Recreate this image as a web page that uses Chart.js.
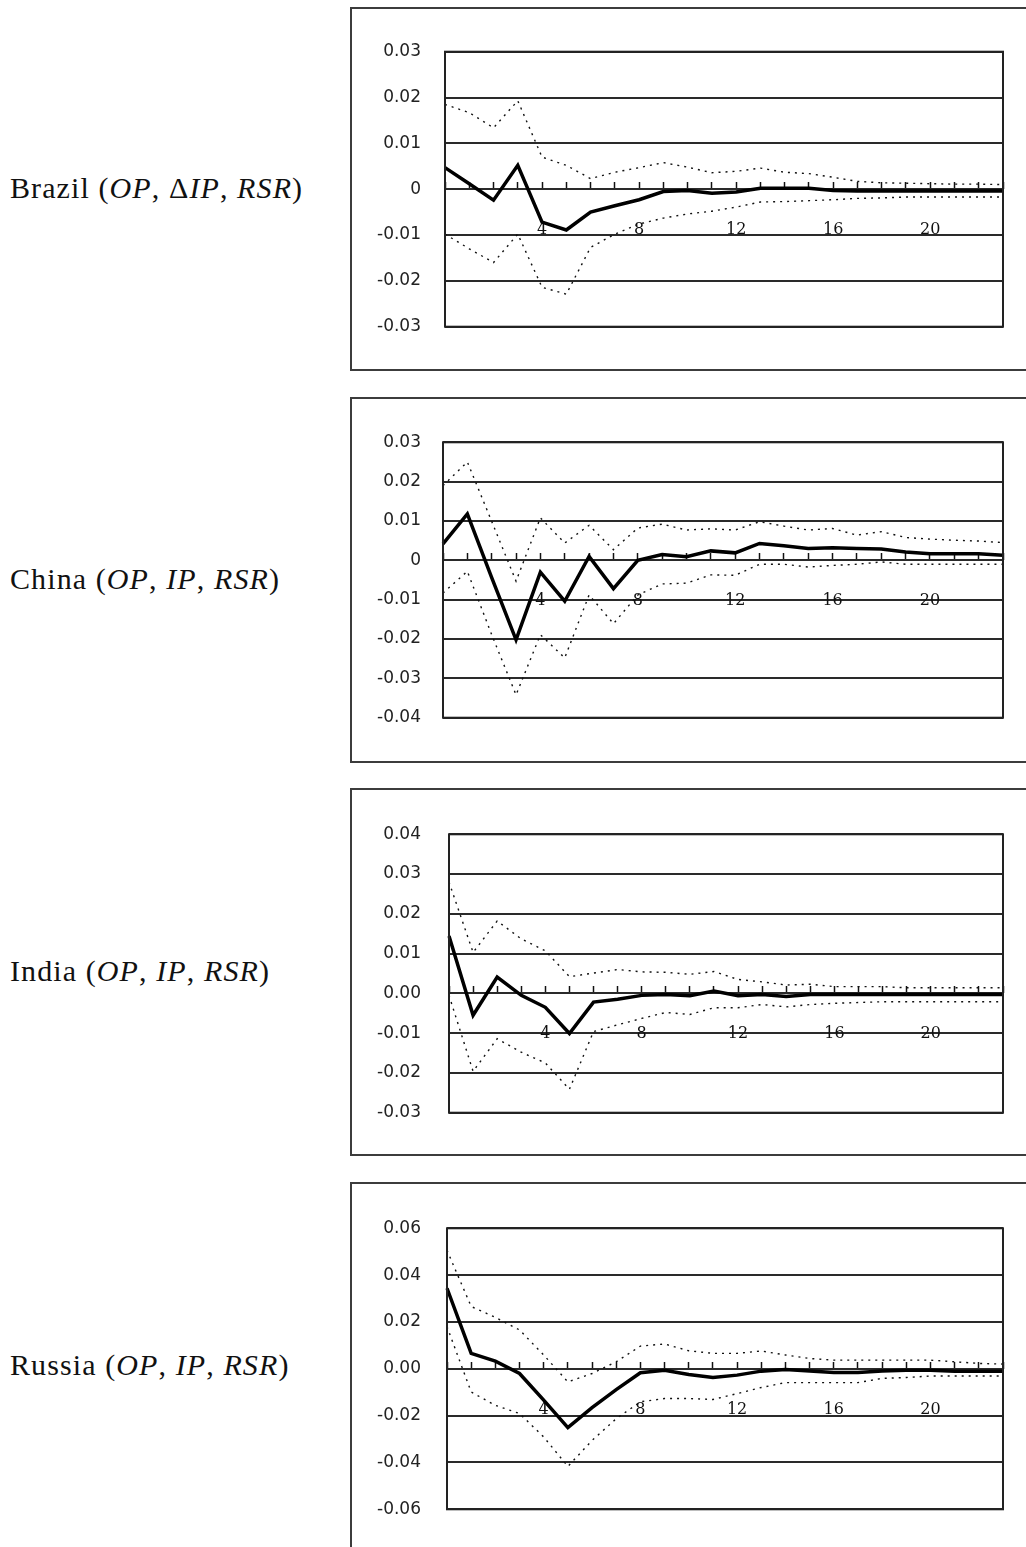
<!DOCTYPE html>
<html lang="en">
<head>
<meta charset="UTF-8">
<title>Impulse responses</title>
<script src="https://cdn.jsdelivr.net/npm/chart.js"></script>
<style>
  html, body { margin: 0; padding: 0; background: #fff; }
  body { width: 1026px; height: 1547px; overflow: hidden; position: relative; }
  .box { position: absolute; left: 350px; width: 720px; border: 2px solid #3c3c3c; box-sizing: border-box; overflow: hidden; }
  .box canvas { position: absolute; left: 0; top: 0; }
  .name { position: absolute; left: 10px; display: flex; align-items: center; font-family: "Liberation Serif", serif; font-size: 30px; letter-spacing: 1.1px; color: #111; white-space: nowrap; }
</style>
</head>
<body>
  <div class="name" id="n1"><span>Brazil (<i>OP</i>, &Delta;<i>IP</i>, <i>RSR</i>)</span></div>
  <div class="name" id="n2"><span>China (<i>OP</i>, <i>IP</i>, <i>RSR</i>)</span></div>
  <div class="name" id="n3"><span>India (<i>OP</i>, <i>IP</i>, <i>RSR</i>)</span></div>
  <div class="name" id="n4"><span>Russia (<i>OP</i>, <i>IP</i>, <i>RSR</i>)</span></div>
  <div class="box" id="b1"><canvas id="c1"></canvas></div>
  <div class="box" id="b2"><canvas id="c2"></canvas></div>
  <div class="box" id="b3"><canvas id="c3"></canvas></div>
  <div class="box" id="b4"><canvas id="c4"></canvas></div>

<script>
// periods 0..23, only every 4th one labelled
const periods = ['', '', '', '', '4', '', '', '', '8', '', '', '', '12', '', '', '', '16', '', '', '', '20', '', '', ''];

// Brazil
const brazilResp  = [0.0047, 0.0012, -0.0024, 0.0052, -0.0072, -0.0089, -0.005, -0.0036, -0.0023, -0.0005, -0.0003, -0.0009, -0.0006, 0.0002, 0.0002, 0.0002, -0.0003, -0.0004, -0.0004, -0.0004, -0.0004, -0.0004, -0.0004, -0.0004];
const brazilUpper = [0.0185, 0.0167, 0.0134, 0.0193, 0.007, 0.0052, 0.0023, 0.0037, 0.0047, 0.0058, 0.0048, 0.0036, 0.0039, 0.0046, 0.0037, 0.0034, 0.0026, 0.0017, 0.0014, 0.0013, 0.0012, 0.0011, 0.0011, 0.001];
const brazilLower = [-0.0098, -0.013, -0.016, -0.0098, -0.0214, -0.0229, -0.0127, -0.0098, -0.0076, -0.0063, -0.0054, -0.0048, -0.0039, -0.0028, -0.0027, -0.0025, -0.0023, -0.002, -0.0019, -0.0017, -0.0017, -0.0017, -0.0017, -0.0017];
const brazilYTicks  = [-0.03, -0.02, -0.01, 0, 0.01, 0.02, 0.03];
const brazilYLabels = ['-0.03', '-0.02', '-0.01', '0', '0.01', '0.02', '0.03'];

// China
const chinaResp  = [0.0042, 0.0118, -0.0044, -0.0202, -0.003, -0.0104, 0.001, -0.0072, 0.0, 0.0015, 0.0009, 0.0024, 0.0019, 0.0043, 0.0037, 0.003, 0.0032, 0.003, 0.0029, 0.0021, 0.0017, 0.0017, 0.0017, 0.0013];
const chinaUpper = [0.019, 0.025, 0.0099, -0.0053, 0.0108, 0.0044, 0.0089, 0.0027, 0.0082, 0.0092, 0.0077, 0.008, 0.0077, 0.0098, 0.0087, 0.0077, 0.0081, 0.0064, 0.0073, 0.0058, 0.0054, 0.0051, 0.0049, 0.0045];
const chinaLower = [-0.0083, -0.0028, -0.0189, -0.0342, -0.0189, -0.0248, -0.0088, -0.0161, -0.0088, -0.006, -0.0058, -0.0037, -0.0038, -0.001, -0.001, -0.0017, -0.0013, -0.001, -0.0004, -0.001, -0.001, -0.001, -0.001, -0.001];
const chinaYTicks  = [-0.04, -0.03, -0.02, -0.01, 0, 0.01, 0.02, 0.03];
const chinaYLabels = ['-0.04', '-0.03', '-0.02', '-0.01', '0', '0.01', '0.02', '0.03'];

// India
const indiaResp  = [0.0144, -0.0055, 0.0041, -0.0005, -0.0035, -0.0101, -0.0022, -0.0015, -0.0005, -0.0003, -0.0006, 0.0006, -0.0006, -0.0003, -0.0008, -0.0003, -0.0003, -0.0003, -0.0003, -0.0003, -0.0003, -0.0003, -0.0003, -0.0003];
const indiaUpper = [0.028, 0.0103, 0.0182, 0.0137, 0.0107, 0.0042, 0.0051, 0.006, 0.0054, 0.0053, 0.0048, 0.0055, 0.0035, 0.0029, 0.0021, 0.0023, 0.0017, 0.0017, 0.0017, 0.0014, 0.0014, 0.0014, 0.0014, 0.0014];
const indiaLower = [-0.0005, -0.0196, -0.0114, -0.0148, -0.0175, -0.0241, -0.0096, -0.0079, -0.0063, -0.0048, -0.0053, -0.0036, -0.0036, -0.0028, -0.0034, -0.0028, -0.0025, -0.0023, -0.0021, -0.0021, -0.0021, -0.0021, -0.0021, -0.0021];
const indiaYTicks  = [-0.03, -0.02, -0.01, 0, 0.01, 0.02, 0.03, 0.04];
const indiaYLabels = ['-0.03', '-0.02', '-0.01', '0.00', '0.01', '0.02', '0.03', '0.04'];

// Russia
const russiaResp  = [0.0344, 0.0066, 0.0033, -0.002, -0.0134, -0.0251, -0.0166, -0.0089, -0.0017, -0.0006, -0.0024, -0.0037, -0.0027, -0.001, -0.0003, -0.0009, -0.0016, -0.0016, -0.0009, -0.0006, -0.0006, -0.001, -0.001, -0.001];
const russiaUpper = [0.0506, 0.0266, 0.022, 0.0166, 0.0059, -0.0056, -0.002, 0.003, 0.0097, 0.0106, 0.0077, 0.0066, 0.0066, 0.0076, 0.0059, 0.0044, 0.0037, 0.0037, 0.0037, 0.0037, 0.0037, 0.003, 0.0023, 0.002];
const russiaLower = [0.018, -0.0099, -0.0156, -0.0191, -0.0291, -0.0417, -0.0306, -0.0213, -0.0141, -0.0127, -0.0127, -0.0131, -0.0106, -0.008, -0.0059, -0.0059, -0.0059, -0.0059, -0.0041, -0.0037, -0.0031, -0.0031, -0.0031, -0.0031];
const russiaYTicks  = [-0.06, -0.04, -0.02, 0, 0.02, 0.04, 0.06];
const russiaYLabels = ['-0.06', '-0.04', '-0.02', '0.00', '0.02', '0.04', '0.06'];

// page layout of each panel (px)
const panels = [
  { n: 1, boxTop: 7,    boxH: 364, plotTop: 51.7,   plotBottom: 326.7,  plotLeft: 445, resp: brazilResp, upper: brazilUpper, lower: brazilLower, yTicks: brazilYTicks, yLabels: brazilYLabels },
  { n: 2, boxTop: 397,  boxH: 366, plotTop: 442.3,  plotBottom: 717.7,  plotLeft: 443, resp: chinaResp,  upper: chinaUpper,  lower: chinaLower,  yTicks: chinaYTicks,  yLabels: chinaYLabels },
  { n: 3, boxTop: 788,  boxH: 368, plotTop: 834.3,  plotBottom: 1112.7, plotLeft: 449, resp: indiaResp,  upper: indiaUpper,  lower: indiaLower,  yTicks: indiaYTicks,  yLabels: indiaYLabels },
  { n: 4, boxTop: 1182, boxH: 368, plotTop: 1228.3, plotBottom: 1509.3, plotLeft: 447, resp: russiaResp, upper: russiaUpper, lower: russiaLower, yTicks: russiaYTicks, yLabels: russiaYLabels }
];
const PLOT_RIGHT = 1003;
const BOX_LEFT = 352;   // inside the 2px border
const X_PAD = 38;       // x tick label padding (chart.js also uses it as right padding)

// frame round the plot area
const frame = {
  id: 'frame',
  afterDraw(chart) {
    const a = chart.chartArea, ctx = chart.ctx;
    ctx.save();
    ctx.strokeStyle = '#222';
    ctx.lineWidth = 2;
    ctx.strokeRect(a.left, a.top, a.right - a.left, a.bottom - a.top);
    ctx.restore();
  }
};

function makePanel(p) {
  const box = document.getElementById('b' + p.n);
  box.style.top = p.boxTop + 'px';
  box.style.height = p.boxH + 'px';
  const name = document.getElementById('n' + p.n);
  name.style.top = (p.boxTop - 1) + 'px';
  name.style.height = p.boxH + 'px';

  const cTop = p.boxTop + 2;
  const cW = (PLOT_RIGHT - BOX_LEFT) + X_PAD;
  const cH = p.boxH - 4;
  const canvas = document.getElementById('c' + p.n);
  canvas.width = cW;
  canvas.height = cH;
  canvas.style.width = cW + 'px';
  canvas.style.height = cH + 'px';

  new Chart(canvas, {
    type: 'line',
    data: {
      labels: periods,
      datasets: [
        { data: p.resp,  borderColor: '#000', borderWidth: 3.5, pointRadius: 0, tension: 0 },
        { data: p.upper, borderColor: '#111', borderWidth: 1.4, borderDash: [2, 5], pointRadius: 0, tension: 0 },
        { data: p.lower, borderColor: '#111', borderWidth: 1.4, borderDash: [2, 5], pointRadius: 0, tension: 0 }
      ]
    },
    options: {
      responsive: false,
      animation: false,
      events: [],
      layout: {
        padding: {
          left: 0,
          right: X_PAD,
          top: p.plotTop - cTop,
          bottom: cTop + cH - p.plotBottom
        }
      },
      plugins: { legend: { display: false }, tooltip: { enabled: false } },
      scales: {
        x: {
          position: { y: 0 },
          offset: false,
          border: { display: false },
          grid: { drawOnChartArea: false, drawTicks: true, tickLength: -7, tickColor: '#111', tickWidth: 1.5 },
          ticks: { autoSkip: false, maxRotation: 0, padding: X_PAD, color: '#111', font: { family: 'DejaVu Serif', size: 16 } }
        },
        y: {
          min: p.yTicks[0],
          max: p.yTicks[p.yTicks.length - 1],
          afterBuildTicks: s => { s.ticks = p.yTicks.map(v => ({ value: v })); },
          afterFit: s => { s.width = p.plotLeft - BOX_LEFT; },
          border: { display: false },
          grid: { color: '#2a2a2a', lineWidth: 2, drawTicks: false },
          ticks: {
            padding: p.plotLeft - 421,
            color: '#222',
            font: { family: 'DejaVu Sans', size: 17 },
            callback: (v, i) => p.yLabels[i]
          }
        }
      }
    },
    plugins: [frame]
  });
}

panels.forEach(makePanel);
</script>
</body>
</html>
